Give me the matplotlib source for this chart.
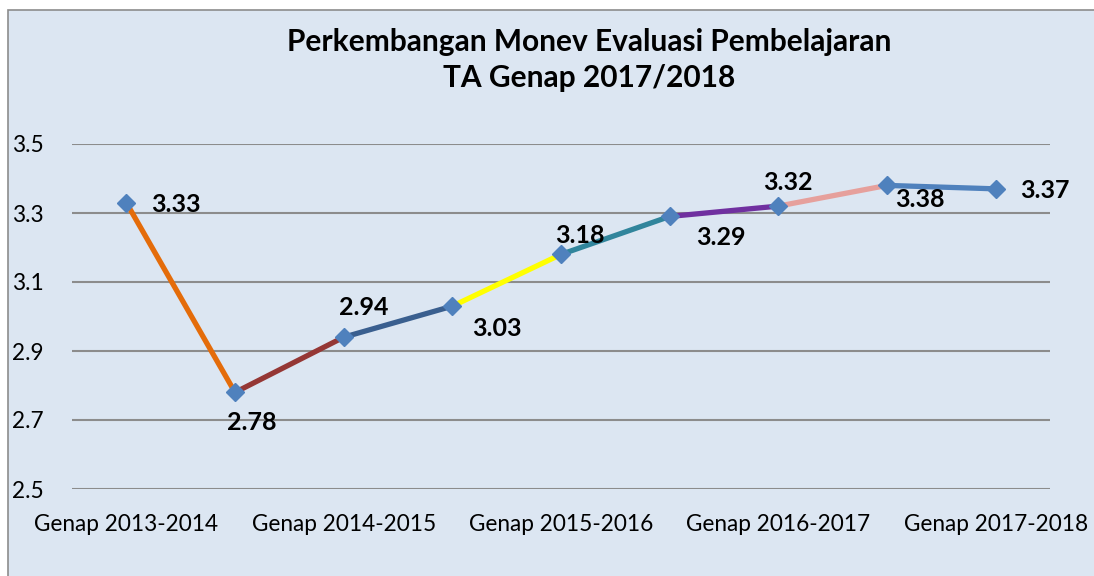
import matplotlib
matplotlib.use("Agg")
import matplotlib.pyplot as plt
from matplotlib.patches import Rectangle

plt.rcParams['font.family'] = ['Lato', 'DejaVu Sans']

categories = ["Genap 2013-2014", "", "Genap 2014-2015", "", "Genap 2015-2016", "",
              "Genap 2016-2017", "", "Genap 2017-2018"]
values = [3.33, 2.78, 2.94, 3.03, 3.18, 3.29, 3.32, 3.38, 3.37]
labels = ["3.33", "2.78", "2.94", "3.03", "3.18", "3.29", "3.32", "3.38", "3.37"]
segment_colors = ["#E46C0A", "#953735", "#3A5F8F", "#FFFF00", "#31859C",
                  "#7030A0", "#E6A09C", "#4F81BD"]
label_offsets = [(50, -2), (17, -30), (20, 30), (45, -22), (19, 19),
                 (51, -21), (10, 24), (33, -14), (49, -2)]
yticks = [2.5, 2.7, 2.9, 3.1, 3.3, 3.5]
title_lines = ["Perkembangan Monev Evaluasi Pembelajaran", "TA Genap 2017/2018"]

bg = "#DCE6F2"
fig = plt.figure(figsize=(10.94, 5.76), dpi=100)
fig.patch.set_facecolor("white")
fig.patches.append(Rectangle((8/1094, -0.1), 1.2, 1.1 - 10/576, transform=fig.transFigure,
                             facecolor=bg, edgecolor="#8C8C8C", linewidth=1.2, zorder=-10))

ax = fig.add_axes([72/1094, 1 - 489/576, 978/1094, 345/576])
ax.set_facecolor("none")
x = list(range(len(values)))
for i in range(len(values) - 1):
    ax.plot(x[i:i+2], values[i:i+2], color=segment_colors[i], linewidth=3.8,
            solid_capstyle='butt', zorder=3)
ax.plot(x, values, linestyle='none', marker='D', markersize=9.5,
        color="#4F81BD", zorder=4)

for xi, v, lab, off in zip(x, values, labels, label_offsets):
    ax.annotate(lab, (xi, v), xytext=off, textcoords='offset pixels',
                ha='center', va='center', fontsize=18, fontweight='bold',
                color='black', zorder=5)

ax.set_xlim(-0.5, len(values) - 0.5)
ax.set_ylim(2.5, 3.5)
ax.set_yticks(yticks)
ax.set_yticklabels([f"{t:.1f}" for t in yticks])
ax.set_xticks(x)
ax.set_xticklabels(categories)
ax.grid(axis='y', color="#8C8C8C", linewidth=1.5)
ax.set_axisbelow(True)
for s in ax.spines.values():
    s.set_visible(False)
ax.tick_params(axis='both', length=0, labelsize=16.3)
ax.tick_params(axis='x', pad=18)
for t in ax.get_yticklabels():
    t.set_horizontalalignment('left')
ax.tick_params(axis='y', pad=43)

fig.text(589/1094, 1 - 42/576, title_lines[0], ha='center', va='center',
         fontsize=21.5, fontweight='bold')
fig.text(589/1094, 1 - 78/576, title_lines[1], ha='center', va='center',
         fontsize=21.5, fontweight='bold')

fig.savefig("out.png", dpi=100, facecolor=fig.get_facecolor())
